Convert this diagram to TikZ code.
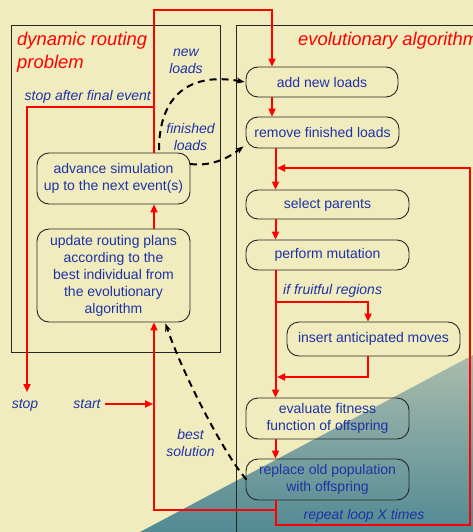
\documentclass[tikz,border=0pt]{standalone}
\usepackage{fontspec}
\setmainfont{Liberation Sans}
\usetikzlibrary{arrows.meta,calc}
\definecolor{bg}{RGB}{241,236,190}
\definecolor{txt}{RGB}{30,50,165}
\definecolor{tealL}{RGB}{170,188,172}
\definecolor{tealD}{RGB}{82,138,148}
\begin{document}
\begin{tikzpicture}[x=1pt,y=-1pt,
  box/.style={draw=black!85, line width=0.9pt, rounded corners=12pt, align=center, text=txt,
    font=\fontsize{14}{17}\selectfont, inner sep=0pt},
  lab/.style={text=txt, font=\fontsize{14}{17}\selectfont\itshape, align=center, inner sep=0pt},
  ttl/.style={text=red, font=\fontsize{18.4}{23.5}\selectfont\itshape, align=left, inner sep=0pt},
  frame/.style={draw=black!85, line width=0.9pt},
  rl/.style={red, line width=2pt},
  ra/.style={rl, -{Triangle[length=8pt,width=7pt]}},
  da/.style={black, line width=2pt, dash pattern=on 7pt off 5pt, -{Stealth[length=8pt,width=6pt]}}]
\useasboundingbox (0,0) rectangle (473,532);
\fill[bg] (0,0) rectangle (473,532);
\shade[shading angle=-40, top color=tealL, bottom color=tealD] (140,532) -- (473,355) -- (473,532) -- cycle;
% frames
\draw[frame] (11,25) rectangle (220,352);
\draw[frame] (480,25) -- (236,25) -- (236,540);
% titles
\node[ttl, anchor=north west] (t1) at (17,31.5) {dynamic routing\\problem};
\node[ttl, anchor=north west] (t2) at (298,31.5) {evolutionary algorithm};
% boxes
\node[box, minimum width=153pt, minimum height=51pt] (advance) at (113.5,178.5) {advance simulation\\up to the next event(s)};
\node[box, minimum width=153pt, minimum height=93pt] (update) at (113.5,275.5) {update routing plans\\according to the\\best individual from\\the evolutionary\\algorithm};
\node[box, minimum width=152pt, minimum height=30pt] (addnew) at (322,82) {add new loads};
\node[box, minimum width=153pt, minimum height=31pt] (remove) at (322.5,132.5) {remove finished loads};
\node[box, minimum width=163pt, minimum height=29pt] (select) at (327.5,204.5) {select parents};
\node[box, minimum width=163pt, minimum height=30pt] (mutation) at (327.5,255) {perform mutation};
\node[box, minimum width=173pt, minimum height=34pt] (insert) at (373.5,339) {insert anticipated moves};
\node[box, minimum width=163pt, minimum height=41pt] (evaluate) at (327.5,418.5) {evaluate fitness\\function of offspring};
\node[box, minimum width=163pt, minimum height=41pt] (replace) at (327.5,479.5) {replace old population\\with offspring};
% labels
\node[lab] (newl) at (186,61) {new\\loads};
\node[lab] (finl) at (190.5,137) {finished\\loads};
\node[lab] (bestl) at (190.5,442.5) {best\\solution};
\node[lab, anchor=east] (stopl) at (151,97) {stop after final event};
\node[lab, anchor=west] (fruit) at (283,291) {if fruitful regions};
\node[lab] (repl) at (364,516) {repeat loop X times};
\node[lab] (stop) at (25,405) {stop};
\node[lab] (start) at (87,404) {start};
% helper coordinates
\coordinate (xa) at (154,0);
\coordinate (xb) at (272,0);
\coordinate (xc) at (275.5,0);
\coordinate (xd) at (368,0);
\coordinate (xe) at (470,0);
\coordinate (xs) at (27,0);
\coordinate (ytop) at (0,10);
\coordinate (ystop) at (0,107);
\coordinate (yfr) at (0,302);
\coordinate (yins) at (0,377);
\coordinate (yret) at (0,168);
\coordinate (yb1) at (0,510);
\coordinate (yb2) at (0,525);
\coordinate (ystopt) at (0,392);
\coordinate (d1) at (159,150);
\coordinate (d2) at (190,164);
% red connectors
\draw[ra] (advance.north -| xa) -- (xa |- ytop) -| (addnew.north -| xb);
\draw[ra] (xa |- ystop) -- (xs |- ystop) -- (xs |- ystopt);
\draw[ra] (update.north -| xa) -- (advance.south -| xa);
\draw[ra] (addnew.south -| xb) -- (remove.north -| xb);
\draw[ra] (remove.south -| xc) -- (select.north -| xc);
\draw[ra] (select.south -| xc) -- (mutation.north -| xc);
\draw[ra] (mutation.south -| xc) -- (evaluate.north -| xc);
\draw[ra] (xc |- yfr) -| (insert.north -| xd);
\draw[ra] (insert.south -| xd) |- ([xshift=1.5pt]xc |- yins);
\draw[ra] (evaluate.south -| xc) -- (replace.north -| xc);
\draw[ra] (replace.south -| xc) |- (xa |- yb1) -- (update.south -| xa);
\draw[ra] ([xshift=4pt]start.east) -- ([xshift=-1pt]xa |- start.east);
\draw[ra] (replace.south -| xc) |- (xe |- yb2) |- ([xshift=1.5pt]xc |- yret);
% dashed connectors
\draw[da] (d1) .. controls (159,95) and (190,72) .. ([xshift=-1pt]addnew.west);
\draw[da] (d2) .. controls (215,167) and (232,155) .. ([xshift=-2pt,yshift=2pt]remove.south west);
\draw[da] ([xshift=1pt]replace.west) .. controls (228,460) and (185,380) .. ([xshift=-25pt,yshift=-1pt]update.south east);
\end{tikzpicture}
\end{document}
